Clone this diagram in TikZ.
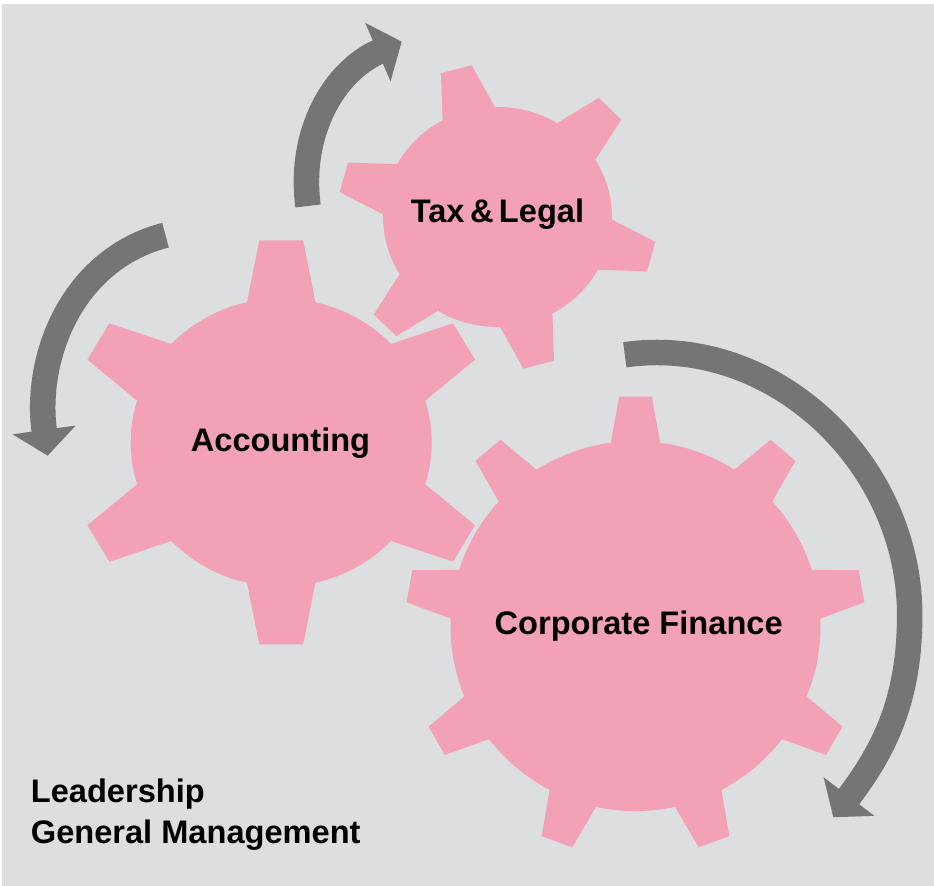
\documentclass[tikz,border=0pt]{standalone}
\usepackage{fontspec}
\setmainfont{Liberation Sans}
\usepackage{tikz}
\usetikzlibrary{arrows.meta}

\definecolor{gearpink}{RGB}{242,161,183}
\definecolor{arrowgray}{RGB}{117,117,117}
\definecolor{bggray}{RGB}{221,222,224}

\begin{document}
\begin{tikzpicture}[x=0.5pt,y=0.5pt,
  gear/.style={fill=gearpink},
  turn/.style={draw=arrowgray,line width=12.75pt,-{Triangle[width=31.2pt,length=13pt]}},
  gearname/.style={font=\fontsize{16.3}{20}\selectfont\bfseries,inner sep=0pt}]
% Page and background
\useasboundingbox (0,0) rectangle (934,886);
\fill[bggray] (2,0) rectangle (934,882);

% Accounting gear (6 teeth)
\begin{scope}[shift={(281.2,443.5)},xscale=1.045]
  \fill[gear] (0,0) circle (144);
  \foreach \a in {30,90,...,330}
    \fill[gear,rotate=\a] (134,-33.9) -- (202,-21) -- (202,21) -- (134,33.9) -- cycle;
\end{scope}

% Tax & Legal gear (6 teeth)
\begin{scope}[shift={(497.5,669)},xscale=1.04]
  \fill[gear] (0,0) circle (110);
  \foreach \a in {45,105,...,345}
    \fill[gear,rotate=\a] (100,-27.6) -- (153,-15.3) -- (153,15.3) -- (100,27.6) -- cycle;
\end{scope}

% Corporate Finance gear (9 teeth)
\begin{scope}[shift={(635.5,259.9)}]
  \fill[gear] (0,0) circle (185);
  \foreach \a in {10,50,...,330}
    \fill[gear,rotate=\a] (175,-26.2) -- (229.5,-16.3) -- (229.5,16.3) -- (175,26.2) -- cycle;
\end{scope}

% Gear names
\node[gearname,anchor=base] (acc) at (280.5,434.3) {Accounting};
\node[gearname,anchor=base] (tax) at (497.5,663.3) {Tax\,\&\,Legal};
\node[gearname,anchor=base] (cf) at (638.7,251) {Corporate Finance};

% Turning arrows
\coordinate (taxtail) at (308,680);
\coordinate (taxtip) at (401.7,844.3);
\draw[turn] (taxtail) to[out=97.5,in=203.5] (taxtip);

\coordinate (acctail) at (165.5,650.8);
\coordinate (acctip) at (47.7,430.3);
\draw[turn] (acctail) to[out=194.4,in=97.9] (acctip);

\coordinate (cftail) at (624.8,531.2);
\coordinate (cfside) at (909.7,271);
\coordinate (cftip) at (833.3,68.7);
\draw[turn] (cftail) to[out=8.1,in=90] (cfside) to[out=-90,in=52.8] (cftip);

% Management labels
\node[gearname,anchor=base west] (lead) at (30.5,83.3) {Leadership};
\node[gearname,anchor=base west] (mgmt) at (30.5,42.7) {General Management};
\end{tikzpicture}
\end{document}
